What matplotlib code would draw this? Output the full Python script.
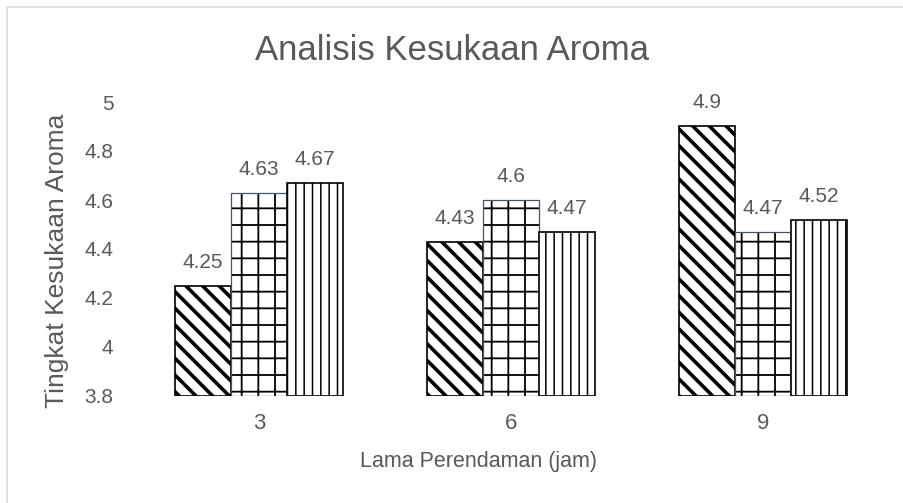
import numpy as np
import matplotlib.pyplot as plt
from matplotlib.patches import Rectangle

plt.rcParams['font.family'] = ['Liberation Sans', 'DejaVu Sans']

# Data
kategori = ['3', '6', '9']
seri_1 = [4.25, 4.43, 4.9]
seri_2 = [4.63, 4.6, 4.47]
seri_3 = [4.67, 4.47, 4.52]
y_ticks = [3.8, 4, 4.2, 4.4, 4.6, 4.8, 5]

abu = '#595959'

fig = plt.figure(figsize=(9.04, 5.03), dpi=100)
ax = fig.add_axes([133/904, 1 - 396/503, (889 - 133)/904, (396 - 102)/503])

x = np.arange(len(kategori))
w = 1 / 4.5  # Excel gap width 150%


def set_hw(bars, lw):
    for b in bars:
        try:
            b.set_hatch_linewidth(lw)
        except AttributeError:
            pass


plt.rcParams['hatch.linewidth'] = 2.6
b1 = ax.bar(x - w, np.array(seri_1) - 3.8, w, bottom=3.8, color='white',
            edgecolor='black', hatch='\\\\', linewidth=1.2)
set_hw(b1, 2.6)

plt.rcParams['hatch.linewidth'] = 1.3
b2 = ax.bar(x, np.array(seri_2) - 3.8, w, bottom=3.8, color='white',
            edgecolor='black', hatch='+', linewidth=0)
set_hw(b2, 1.3)
ax.bar(x, np.array(seri_2) - 3.8, w, bottom=3.8, fill=False,
       edgecolor='#44546a', linewidth=0.9)

b3 = ax.bar(x + w, np.array(seri_3) - 3.8, w, bottom=3.8, color='white',
            edgecolor='black', hatch='||', linewidth=1.2)
set_hw(b3, 1.1)

# Label data
for off, vals in [(-w, seri_1), (0, seri_2), (w, seri_3)]:
    for xi, v in zip(x, vals):
        ax.annotate(f'{v:g}', (xi + off, v), xytext=(0, 13),
                    textcoords='offset points', ha='center', va='baseline',
                    fontsize=15, color=abu)

ax.set_xlim(-0.5, 2.5)
ax.set_ylim(3.8, 5)
ax.set_yticks(y_ticks)
ax.set_yticklabels([f'{t:g}' for t in y_ticks])
ax.set_xticks(x)
ax.set_xticklabels(kategori)
ax.tick_params(length=0, labelcolor=abu)
ax.tick_params(axis='y', pad=14, labelsize=15)
ax.tick_params(axis='x', pad=12, labelsize=16)
for s in ax.spines.values():
    s.set_visible(False)

fig.text(0.5, 1 - 50/503, 'Analisis Kesukaan Aroma', ha='center', va='center',
         fontsize=25, color=abu)
fig.text(479/904, 1 - 462/503, 'Lama Perendaman (jam)', ha='center', va='center',
         fontsize=15.5, color=abu)
fig.text(57/904, 1 - 261/503, 'Tingkat Kesukaan Aroma', ha='center', va='center',
         rotation=90, fontsize=19, color=abu)

# Bingkai chart
fig.patches.append(Rectangle((7/904, -0.1), 1.2, 1.1 - 7/503,
                             transform=fig.transFigure, fill=False,
                             edgecolor='#d9d9d9', linewidth=1.2))

fig.savefig('out.png', dpi=100)
